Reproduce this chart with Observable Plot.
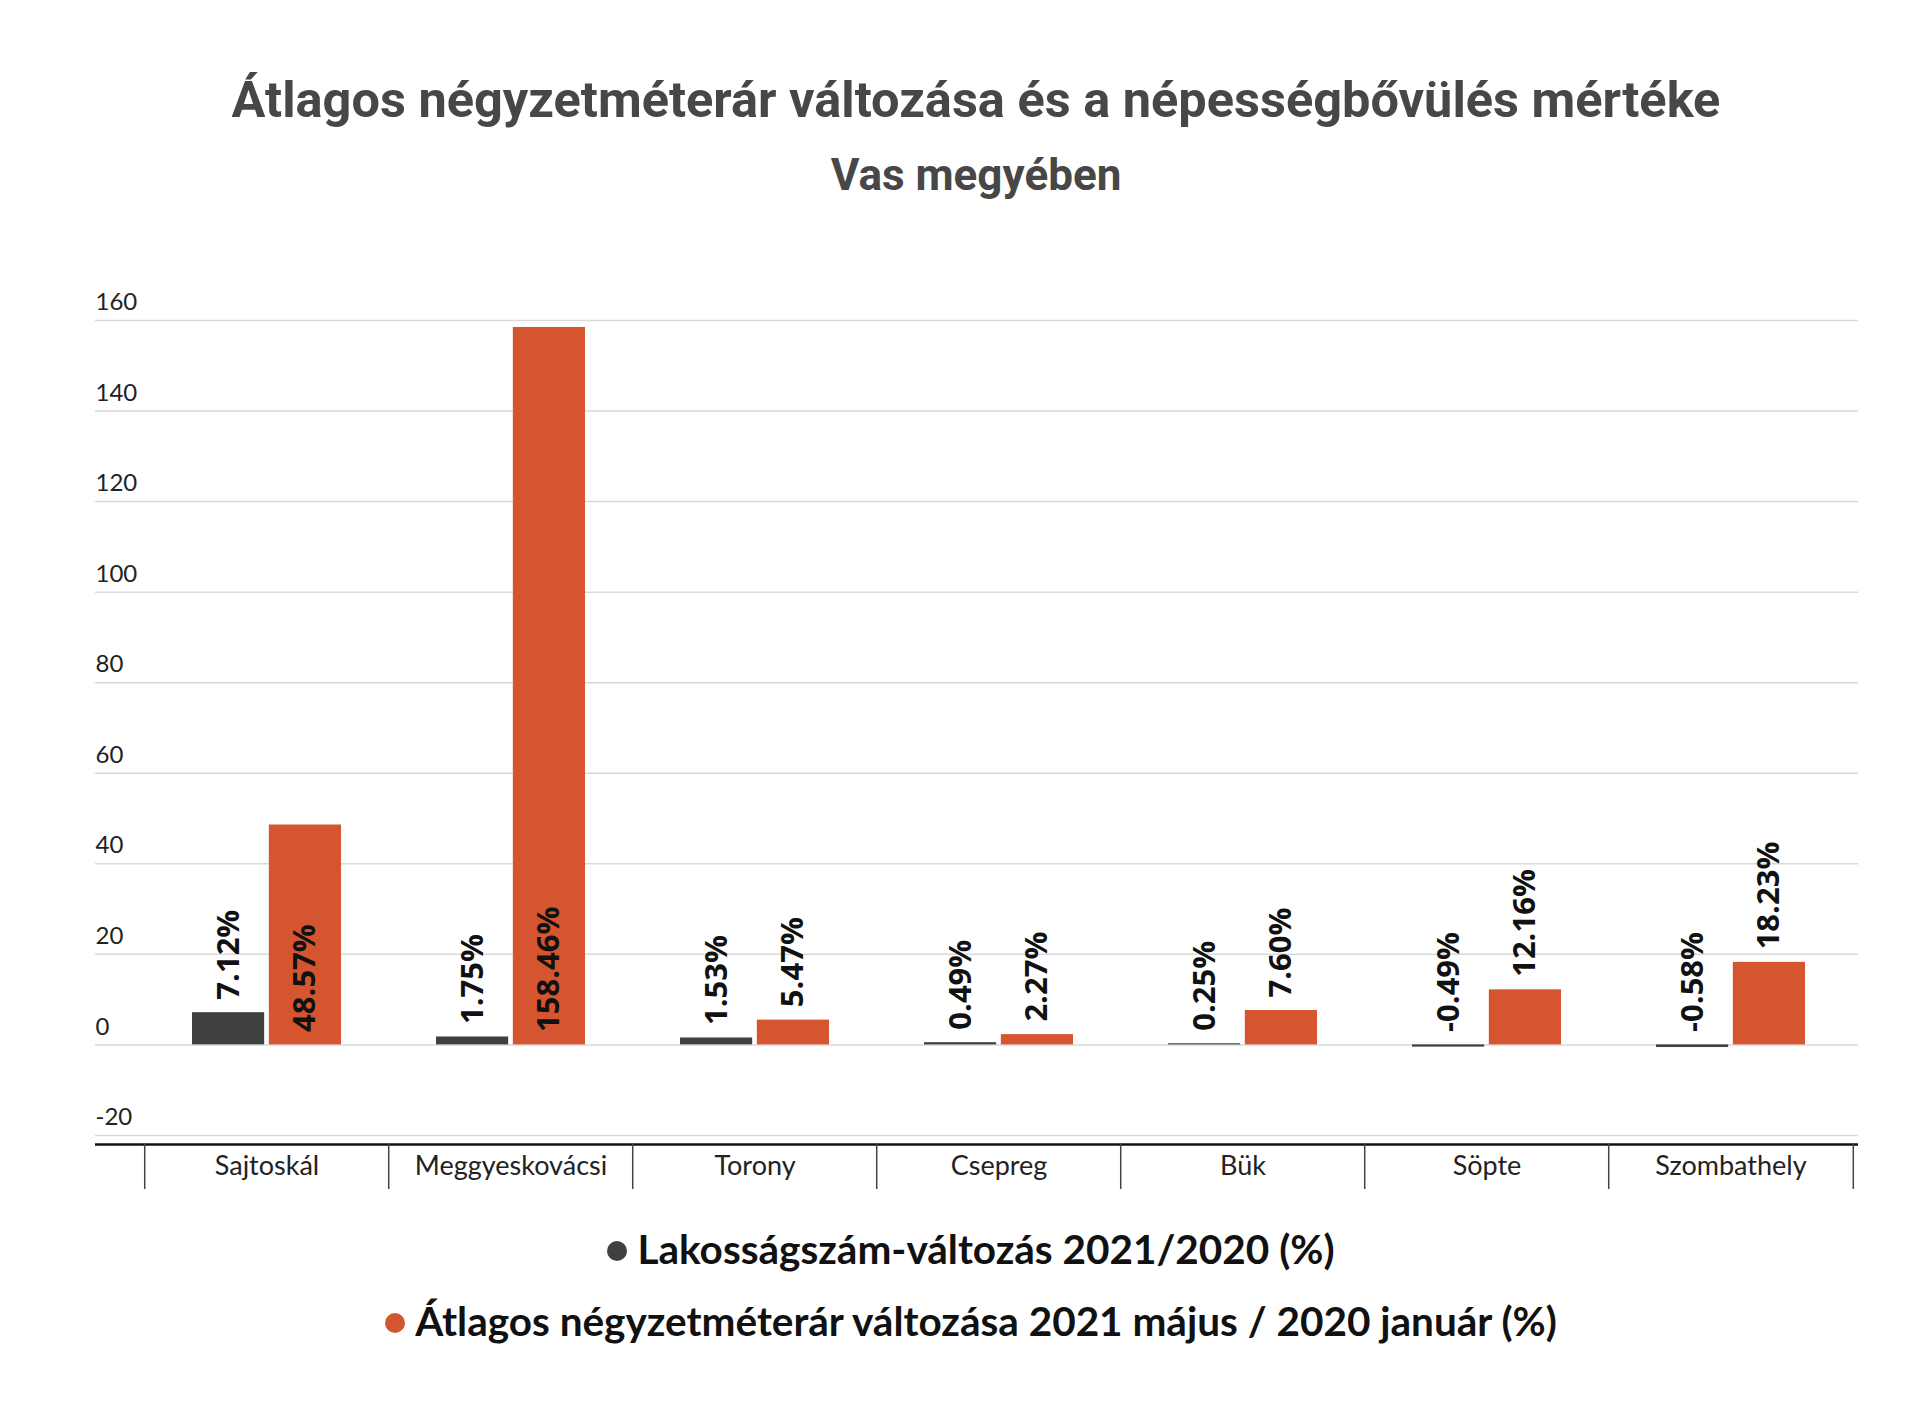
<!DOCTYPE html>
<html>
<head>
<meta charset="utf-8">
<script src="https://cdn.jsdelivr.net/npm/d3@7"></script>
<script src="https://cdn.jsdelivr.net/npm/@observablehq/plot@0.6"></script>
<style>
  html, body { margin: 0; padding: 0; background: #fff; }
  body { width: 1920px; height: 1428px; position: relative; overflow: hidden; }
  .title { position: absolute; left: 0; width: 1952px; text-align: center; font-family: Roboto, "Noto Sans", sans-serif; font-weight: 700; color: #474747; white-space: nowrap; }
  #chart { position: absolute; left: 0; top: 240px; }
  .legend { position: absolute; left: 0; width: 1942px; text-align: center; font-family: Lato, "Noto Sans", sans-serif; font-weight: 700; font-size: 40.5px; color: #111; white-space: nowrap; line-height: 48px; }
  .dot { display: inline-block; width: 20px; height: 20px; border-radius: 50%; margin-right: 10px; vertical-align: 3px; }
</style>
</head>
<body>
<div class="title" style="top:70px;font-size:50.5px;line-height:60px;">Átlagos négyzetméterár változása és a népességbővülés mértéke</div>
<div class="title" style="top:148px;font-size:44px;line-height:54px;">Vas megyében</div>
<div id="chart"></div>
<div class="legend" style="top:1225px;"><span class="dot" style="background:#404040"></span>Lakosságszám-változás 2021/2020 (%)</div>
<div class="legend" style="top:1297px;"><span class="dot" style="background:#d4552f"></span>Átlagos négyzetméterár változása 2021 május / 2020 január (%)</div>
<script>
const cities = ["Sajtoskál", "Meggyeskovácsi", "Torony", "Csepreg", "Bük", "Söpte", "Szombathely"];
const popChange = [7.12, 1.75, 1.53, 0.49, 0.25, -0.49, -0.58];
const priceChange = [48.57, 158.46, 5.47, 2.27, 7.60, 12.16, 18.23];
const yTicks = [-20, 0, 20, 40, 60, 80, 100, 120, 140, 160];
const yDomain = [-22, 160];

const popData = cities.map((c, i) => ({city: c, v: popChange[i]}));
const priceData = cities.map((c, i) => ({city: c, v: priceChange[i]}));

const DARK = "#404040";
const ORANGE = "#d4552f";
const xRange = [143, 1855];
const step = (xRange[1] - xRange[0]) / cities.length;
const pIn = 0.388;
const bw = step * (1 - pIn);
const barW = (bw - 4) / 2;
const inset = bw - barW;
const off = bw / 2 - barW / 2;

// label anchor: tall bars get the label at their base, others above the bar
const labelY = v => (v > 40 ? 0 : Math.max(v, 0));
const fmt = v => v.toFixed(2) + "%";

const chart = Plot.plot({
  width: 1920,
  height: 964,
  marginTop: 80,
  marginBottom: 60,
  marginLeft: 95,
  marginRight: 62,
  x: {domain: cities, range: xRange, paddingInner: pIn, paddingOuter: pIn / 2, axis: null, label: null},
  y: {domain: yDomain, axis: null, label: null},
  style: {background: "transparent"},
  marks: [
    Plot.ruleY(yTicks, {stroke: "#d9d9d9", strokeWidth: 1.5}),
    Plot.text(yTicks, {y: d => d, text: d => String(d), frameAnchor: "left", textAnchor: "start", dy: -18, fontSize: 24, fill: "#222", fontFamily: "Lato, 'Noto Sans', sans-serif"}),
    Plot.barY(popData, {x: "city", y: "v", fill: DARK, insetRight: inset}),
    Plot.barY(priceData, {x: "city", y: "v", fill: ORANGE, insetLeft: inset}),
    Plot.text(popData, {x: "city", y: d => labelY(d.v), text: d => fmt(d.v), rotate: -90, textAnchor: "start", dx: -off, dy: -13, fontSize: 31, fontWeight: 700, fill: "#111", fontFamily: "'Open Sans', 'Noto Sans', sans-serif"}),
    Plot.text(priceData, {x: "city", y: d => labelY(d.v), text: d => fmt(d.v), rotate: -90, textAnchor: "start", dx: off, dy: -13, fontSize: 31, fontWeight: 700, fill: "#111", fontFamily: "'Open Sans', 'Noto Sans', sans-serif"}),
    Plot.ruleY([yDomain[0]], {stroke: "#111", strokeWidth: 2.5}),
    Plot.axisX({tickSize: 45, tickFormat: () => "", label: null, dx: -step / 2, stroke: "#444", strokeWidth: 1.5}),
    Plot.axisX([cities[cities.length - 1]], {tickSize: 45, tickFormat: () => "", label: null, dx: step / 2, stroke: "#444", strokeWidth: 1.5}),
    Plot.text(cities, {x: d => d, text: d => d, frameAnchor: "bottom", dy: 30, fontSize: 27, fill: "#222", fontFamily: "Lato, 'Noto Sans', sans-serif"})
  ]
});
document.getElementById("chart").appendChild(chart);
</script>
</body>
</html>
